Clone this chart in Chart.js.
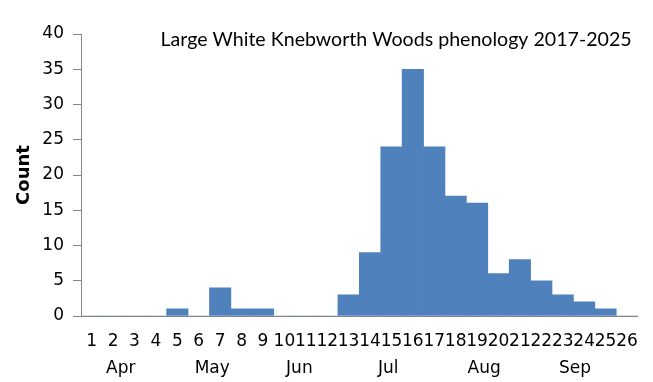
<!DOCTYPE html>
<html>
<head>
<meta charset="utf-8">
<script src="https://cdn.jsdelivr.net/npm/chart.js@4"></script>
<style>
  html, body { margin: 0; padding: 0; background: #fff; }
  #wrap { width: 653px; height: 382px; position: relative; }
</style>
</head>
<body>
<div id="wrap"><canvas id="c" width="653" height="382"></canvas></div>
<script>
const weeks = ['1','2','3','4','5','6','7','8','9','10','11','12','13','14','15','16','17','18','19','20','21','22','23','24','25','26'];
const counts = [0,0,0,0,1,0,4,1,1,0,0,0,3,9,24,35,24,17,16,6,8,5,3,2,1,0];
const months = ['Apr','May','Jun','Jul','Aug','Sep'];
const monthWeek = [2.36, 6.63, 10.7, 14.85, 19.33, 23.57];
const yTicks = [0,5,10,15,20,25,30,35,40];
const titleText = 'Large White Knebworth Woods phenology 2017-2025';

const axisColor = '#868686';
const tickFont = { family: 'DejaVu Sans', size: 17 };

const overlay = {
  id: 'overlay',
  afterDraw(chart) {
    const ctx = chart.ctx;
    const xs = chart.scales.x;
    ctx.save();
    ctx.fillStyle = '#000';
    ctx.font = '17px "DejaVu Sans"';
    ctx.textAlign = 'center';
    ctx.textBaseline = 'alphabetic';
    months.forEach((m, i) => {
      const x = xs.getPixelForValue(monthWeek[i] - 1);
      ctx.fillText(m, x, 373);
    });
    ctx.font = '19.6px Lato';
    ctx.textAlign = 'right';
    ctx.fillText(titleText, chart.chartArea.right - 6, 46);
    ctx.restore();
  }
};

new Chart(document.getElementById('c'), {
  type: 'bar',
  data: {
    labels: weeks,
    datasets: [{
      data: counts,
      backgroundColor: '#4F81BD',
      borderWidth: 0,
      barPercentage: 1.0,
      categoryPercentage: 1.0
    }]
  },
  options: {
    responsive: false,
    animation: false,
    devicePixelRatio: 1,
    layout: { padding: { top: 34, right: 12, left: 0, bottom: 0 } },
    plugins: { legend: { display: false }, tooltip: { enabled: false } },
    scales: {
      x: {
        grid: { display: false, drawTicks: false },
        border: { display: true, color: axisColor, width: 1 },
        ticks: { color: '#000', font: tickFont, autoSkip: false, maxRotation: 0, minRotation: 0, padding: 15 },
        afterFit(s) { s.height = 66; }
      },
      y: {
        min: 0, max: 40,
        afterBuildTicks(s) { s.ticks = yTicks.map(v => ({ value: v })); },
        grid: { display: true, drawOnChartArea: false, drawTicks: true, tickLength: 8, color: axisColor },
        border: { display: true, color: axisColor, width: 1 },
        ticks: { color: '#000', font: tickFont, padding: 9 },
        title: { display: true, text: 'Count', color: '#000', font: { family: 'DejaVu Sans', size: 18, weight: 'bold' }, padding: { top: 14, bottom: 0 } },
        afterFit(s) { s.width = 81; }
      }
    }
  },
  plugins: [overlay]
});
</script>
</body>
</html>
